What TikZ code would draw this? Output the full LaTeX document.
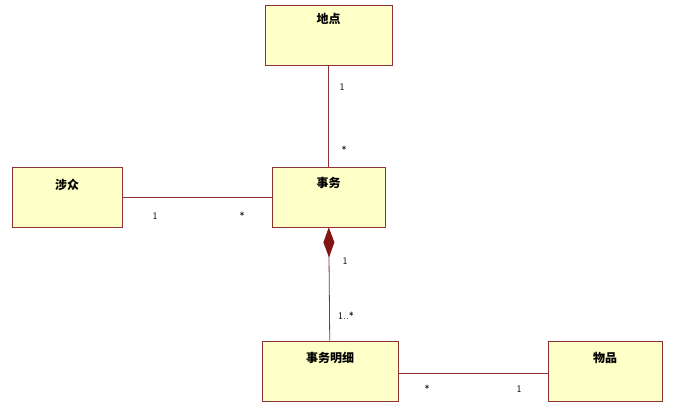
\documentclass[tikz,border=0pt]{standalone}
\usepackage{fontspec}
\newfontfamily\cjk{Noto Sans CJK SC}
\usetikzlibrary{arrows.meta}
\definecolor{boxfill}{RGB}{255,255,200}
\definecolor{edge}{RGB}{140,50,50}
\definecolor{dia}{RGB}{130,20,20}
\begin{document}
\begin{tikzpicture}[x=1pt,y=-1pt,
  cls/.style={draw=edge,fill=boxfill,line width=0.8pt,minimum width=#1,minimum height=60pt,inner sep=0pt},
  ttl/.style={font=\cjk\bfseries\fontsize{12}{14}\selectfont},
  lnk/.style={draw=edge,line width=0.8pt},
  mult/.style={font=\sffamily\fontsize{10}{12}\selectfont}]
\useasboundingbox[fill=white] (0,0) rectangle (688,408);
\node[cls=127pt] (place) at (328.5,35) {};
\node[ttl] at (328.5,19) {地点};
\node[cls=110pt] (party) at (67,197) {};
\node[ttl] at (67,185) {涉众};
\node[cls=113pt] (biz) at (328.5,197) {};
\node[ttl] at (328.5,183) {事务};
\node[cls=136pt] (detail) at (330,371) {};
\node[ttl] at (330,358) {事务明细};
\node[cls=114pt] (item) at (605,371) {};
\node[ttl] at (605,358) {物品};
\draw[lnk] (place) -- (biz);
\draw[lnk] (party) -- (biz);
\draw[lnk,{Diamond[length=30pt,width=11pt,fill=dia,color=dia]}-] (biz) -- (detail);
\draw[lnk] (detail.east |- 0,373) -- (item.west |- 0,373);
\node[mult] at (342,87) {1};
\node[mult] at (344,150) {*};
\node[mult] at (155,216) {1};
\node[mult] at (242,216) {*};
\node[mult] at (345,261) {1};
\node[mult] at (346,316) {1..*};
\node[mult] at (427,389) {*};
\node[mult] at (519,389) {1};
\end{tikzpicture}
\end{document}
